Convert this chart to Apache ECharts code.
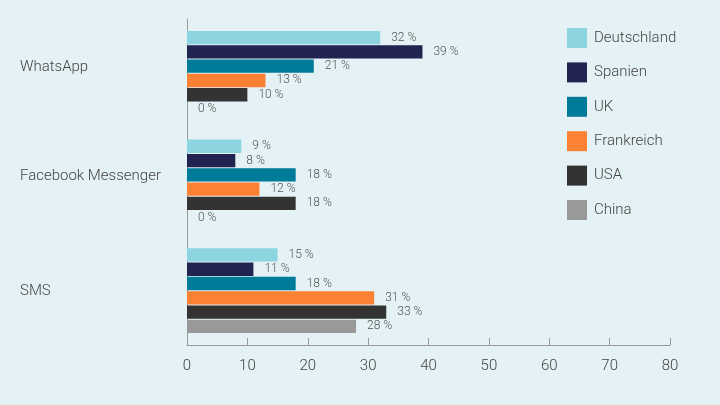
<!DOCTYPE html>
<html><head><meta charset="utf-8">
<script src="https://cdn.jsdelivr.net/npm/echarts@6/dist/echarts.min.js"></script>
<style>html,body{margin:0;padding:0;background:#e4f1f5;}#c{width:720px;height:405px;}</style>
</head><body><div id="c"></div>
<script>
const categories = ['WhatsApp', 'Facebook Messenger', 'SMS'];
const seriesNames = ['Deutschland', 'Spanien', 'UK', 'Frankreich', 'USA', 'China'];
const deutschland = [32, 9, 15];
const spanien = [39, 8, 11];
const uk = [21, 18, 18];
const frankreich = [13, 12, 31];
const usa = [10, 18, 33];
const china = [0, 0, 28];
const xTicks = [0, 10, 20, 30, 40, 50, 60, 70, 80];
const colors = ['#8dd4e1', '#212350', '#007b9a', '#fd8133', '#333333', '#999999'];
const values = [deutschland, spanien, uk, frankreich, usa, china];

const labelStyle = { fontSize: 15, color: '#444', fontFamily: 'Roboto', fontWeight: 300 };
const chart = echarts.init(document.getElementById('c'));
chart.setOption({
  backgroundColor: '#e4f1f5',
  textStyle: { fontFamily: 'Roboto' },
  animation: false,
  legend: {
    orient: 'vertical', left: 562, top: 23,
    itemWidth: 20, itemHeight: 20, itemGap: 14.4,
    icon: 'rect',
    textStyle: { fontSize: 15, color: '#444', fontFamily: 'Roboto', fontWeight: 300, padding: [0, 0, 0, 2] },
    data: seriesNames
  },
  grid: { left: 187, right: 50, top: 19, bottom: 60, containLabel: false, outerBoundsMode: 'none' },
  xAxis: {
    type: 'value', min: xTicks[0], max: xTicks[xTicks.length - 1], interval: 10,
    axisLine: { show: true, lineStyle: { color: '#9a9a9a' } },
    axisTick: { show: true, inside: true, length: 7, lineStyle: { color: '#9a9a9a' } },
    splitLine: { show: false },
    axisLabel: { fontSize: 15, color: '#444', margin: 14, fontFamily: 'Roboto', fontWeight: 300 }
  },
  yAxis: {
    type: 'category', inverse: true, data: categories,
    axisLine: { show: true, lineStyle: { color: '#9a9a9a' } },
    axisTick: { show: false },
    axisLabel: {
      align: 'left', margin: 167, fontSize: 15, color: '#444', fontFamily: 'Roboto', fontWeight: 300,
      formatter: (v, i) => '{p' + i + '|' + v + '}',
      rich: {
        p0: Object.assign({ padding: [0, 0, 13, 0] }, labelStyle),
        p1: Object.assign({ padding: [0, 0, 12, 0] }, labelStyle),
        p2: Object.assign({ padding: [2, 0, 0, 0] }, labelStyle)
      }
    }
  },
  series: seriesNames.map((name, i) => ({
    name, type: 'bar', data: values[i],
    barCategoryGap: '22%', barGap: '7.5%',
    itemStyle: { color: colors[i] },
    label: { show: true, position: 'right', distance: 11, formatter: '{c} %', fontSize: 12, color: '#555', fontFamily: 'Roboto', fontWeight: 300 }
  }))
});
</script></body></html>
